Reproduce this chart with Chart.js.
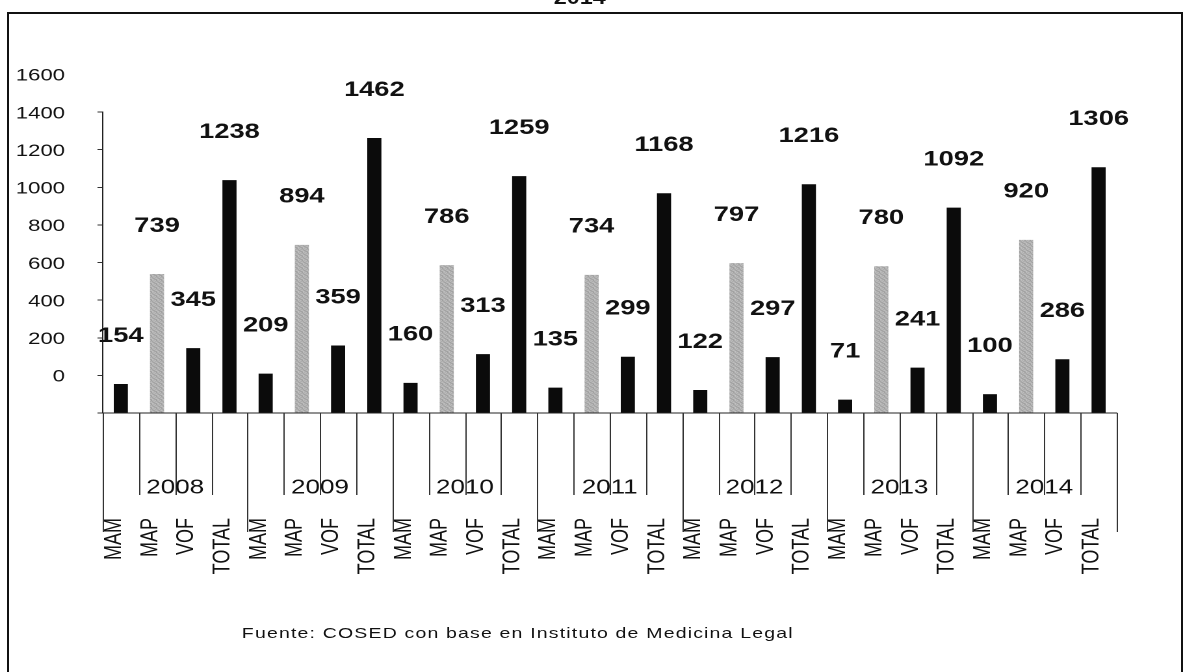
<!DOCTYPE html>
<html>
<head>
<meta charset="utf-8">
<script src="https://cdn.jsdelivr.net/npm/chart.js@4.4.1/dist/chart.umd.min.js"></script>
<style>
  html, body { margin: 0; padding: 0; background: #fff; width: 1184px; height: 672px; overflow: hidden; }
  #marco { position: absolute; left: 7px; top: 12px; width: 1172px; height: 700px; border: 2px solid #111; }
  /* el escaneo original esta estirado a lo ancho */
  #lienzo { position: absolute; left: 0; top: 0; width: 911px; height: 672px; transform: scaleX(1.3); transform-origin: 0 0; }
  #titulo { position: absolute; left: 0; width: 892px; top: -11px; text-align: center; font: bold 18px 'Liberation Sans', Arial, sans-serif; line-height: 18px; color: #111; }
  #fuente { position: absolute; left: 186px; top: 624px; font: 15px 'Liberation Sans', Arial, sans-serif; letter-spacing: 0.9px; line-height: 17px; color: #111; white-space: nowrap; }
</style>
</head>
<body>
<div id="marco"></div>
<div id="lienzo">
  <div id="titulo">2014</div>
  <canvas id="grafico" width="911" height="672"></canvas>
  <div id="fuente">Fuente: COSED con base en Instituto de Medicina Legal</div>
</div>
<script>
// Datos por año
const anios = ['2008', '2009', '2010', '2011', '2012', '2013', '2014'];
const tipos = ['MAM', 'MAP', 'VOF', 'TOTAL'];
const valoresMAM = [154, 209, 160, 135, 122, 71, 100];
const valoresMAP = [739, 894, 786, 734, 797, 780, 920];
const valoresVOF = [345, 359, 313, 299, 297, 241, 286];
const valoresTOTAL = [1238, 1462, 1259, 1168, 1216, 1092, 1306];
const ticksY = [0, 200, 400, 600, 800, 1000, 1200, 1400, 1600];

// Textura punteada para MAP
function texturaGris() {
    const c = document.createElement('canvas');
    c.width = 4; c.height = 4;
    const g = c.getContext('2d');
    const tonos = ['#8f8f8f', '#c4c4c4', '#a6a6a6', '#d2d2d2',
                   '#b8b8b8', '#9a9a9a', '#cfcfcf', '#a0a0a0',
                   '#c9c9c9', '#a9a9a9', '#939393', '#bfbfbf',
                   '#9d9d9d', '#d0d0d0', '#b3b3b3', '#989898'];
    tonos.forEach(function(t, i) {
        g.fillStyle = t;
        g.fillRect(i % 4, Math.floor(i / 4), 1, 1);
    });
    return g.createPattern(c, 'repeat');
}

const negro = '#0b0b0b';
const gris = texturaGris();

const etiquetas = [];
const valores = [];
const colores = [];
anios.forEach(function(a, i) {
    tipos.forEach(function(t) { etiquetas.push(t); });
    valores.push(valoresMAM[i], valoresMAP[i], valoresVOF[i], valoresTOTAL[i]);
    colores.push(negro, gris, negro, negro);
});

// Valores encima de cada barra
const etiquetasBarras = {
    id: 'etiquetasBarras',
    afterDatasetsDraw: function(chart) {
        const ctx = chart.ctx;
        const meta = chart.getDatasetMeta(0);
        ctx.save();
        ctx.font = 'bold 21px "Liberation Sans", Arial, sans-serif';
        ctx.fillStyle = '#111';
        ctx.textAlign = 'center';
        ctx.textBaseline = 'middle';
        meta.data.forEach(function(bar, i) {
            ctx.fillText(String(valores[i]), bar.x, bar.y - 48);
        });
        ctx.restore();
    }
};

// Separadores y años del eje de categorias (dos niveles)
const ejeAnios = {
    id: 'ejeAnios',
    afterDraw: function(chart) {
        const ctx = chart.ctx;
        const x = chart.scales.x;
        const base = chart.chartArea.bottom;
        const paso = x.getPixelForValue(1) - x.getPixelForValue(0);
        const inicio = x.getPixelForValue(0) - paso / 2;
        ctx.save();
        ctx.strokeStyle = '#333';
        ctx.lineWidth = 1;
        for (let i = 0; i <= etiquetas.length; i++) {
            const px = Math.round(inicio + i * paso) + 0.5;
            const largo = (i % 4 === 0) ? 119 : 82;
            ctx.beginPath();
            ctx.moveTo(px, base);
            ctx.lineTo(px, base + largo);
            ctx.stroke();
        }
        ctx.font = '20px "Liberation Sans", Arial, sans-serif';
        ctx.fillStyle = '#111';
        ctx.textAlign = 'center';
        ctx.textBaseline = 'middle';
        anios.forEach(function(a, i) {
            const px = x.getPixelForValue(i * 4 + 1) + paso / 2;
            ctx.fillText(a, px, 488);
        });
        ctx.restore();
    }
};

document.addEventListener('DOMContentLoaded', function() {
    const ctxGrafico = document.getElementById('grafico');
    new Chart(ctxGrafico, {
        type: 'bar',
        data: {
            labels: etiquetas,
            datasets: [{
                data: valores,
                backgroundColor: colores,
                borderWidth: 0,
                barPercentage: 0.39,
                categoryPercentage: 1
            }]
        },
        options: {
            responsive: false,
            animation: false,
            devicePixelRatio: 2,
            layout: {
                padding: { left: 0, right: 52, top: 112, bottom: 0 }
            },
            plugins: {
                legend: { display: false },
                tooltip: { enabled: false }
            },
            scales: {
                y: {
                    min: 0,
                    max: 1600,
                    afterFit: function(s) {
                        s.width = 79;
                        s.paddingTop = 0;
                        s.paddingBottom = 0;
                    },
                    afterBuildTicks: function(s) {
                        s.ticks = ticksY.map(function(v) { return { value: v }; });
                    },
                    grid: {
                        drawOnChartArea: false,
                        drawTicks: true,
                        tickLength: 4,
                        tickColor: '#333'
                    },
                    border: { display: true, color: '#222', width: 1 },
                    ticks: {
                        color: '#111',
                        padding: 25,
                        labelOffset: -36,
                        callback: function(v) { return String(v); },
                        font: { size: 17, family: "'Liberation Sans', Arial, sans-serif" }
                    }
                },
                x: {
                    afterFit: function(s) {
                        s.height = 259;
                        s.paddingLeft = 0;
                        s.paddingRight = 0;
                    },
                    grid: { display: false, drawTicks: false },
                    border: { display: true, color: '#222', width: 1 },
                    ticks: {
                        autoSkip: false,
                        minRotation: 90,
                        maxRotation: 90,
                        padding: 105,
                        labelOffset: -5,
                        color: '#111',
                        font: { size: 18, family: "'Liberation Sans', Arial, sans-serif" }
                    }
                }
            }
        },
        plugins: [etiquetasBarras, ejeAnios]
    });
});
</script>
</body>
</html>
